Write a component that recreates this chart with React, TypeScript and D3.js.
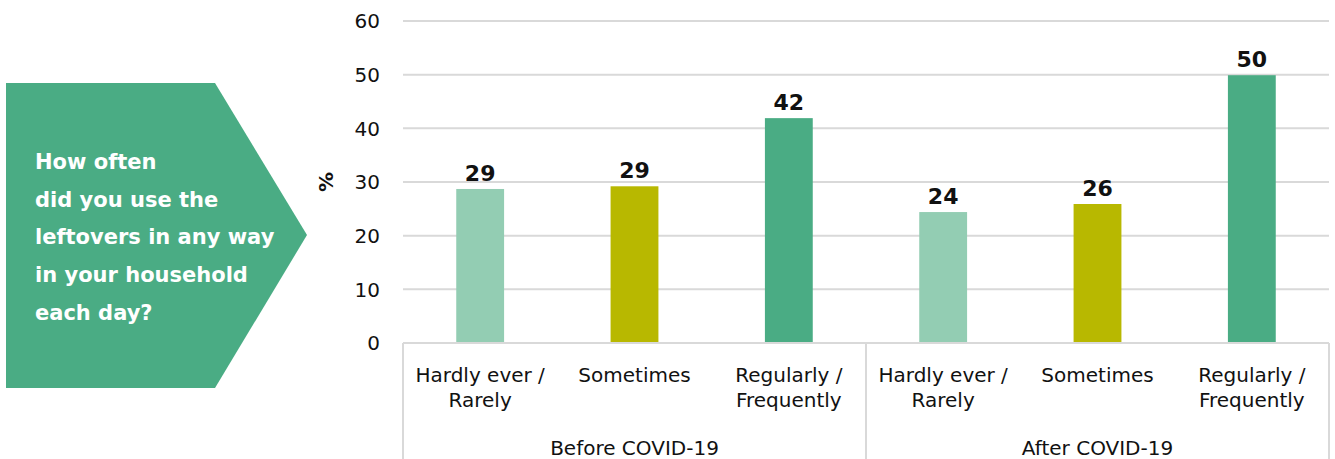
import React from "react";
import * as d3 from "d3";

const groups = ["Before COVID-19", "After COVID-19"];
const categories = ["Hardly ever / Rarely", "Sometimes", "Regularly / Frequently"];
const categoryLines = [["Hardly ever /", "Rarely"], ["Sometimes"], ["Regularly /", "Frequently"]];
const beforeValues = [28.7, 29.2, 41.9];
const afterValues = [24.4, 25.9, 49.9];
const labelsBefore = [29, 29, 42];
const labelsAfter = [24, 26, 50];
const yTicks = [0, 10, 20, 30, 40, 50, 60];
const colors = ["#93CDB3", "#B8B800", "#4AAC84"];
const questionLines = ["How often", "did you use the", "leftovers in any way", "in your household", "each day?"];

const W = 1335;
const H = 459;
const left = 403;
const right = 1329;
const top = 21;
const base = 343;
const font = "'DejaVu Sans', sans-serif";

export default function App() {
  const y = d3.scaleLinear().domain([0, 60]).range([base, top]);
  const xg = d3.scaleBand<string>().domain(groups).range([left, right]).padding(0);
  const xc = d3.scaleBand<string>().domain(categories).range([0, xg.bandwidth()]).paddingInner(0.69).paddingOuter(0.345);
  const data = [
    { g: groups[0], vals: beforeValues, labels: labelsBefore },
    { g: groups[1], vals: afterValues, labels: labelsAfter },
  ];
  const arrow = d3.path();
  arrow.moveTo(6, 83);
  arrow.lineTo(215, 83);
  arrow.lineTo(307, 235);
  arrow.lineTo(215, 388);
  arrow.lineTo(6, 388);
  arrow.closePath();

  return (
    <svg width={W} height={H} style={{ position: "absolute", left: 0, top: 0, display: "block" }} fontFamily={font}>
      <rect width={W} height={H} fill="#fff" />
      <path d={arrow.toString()} fill="#4AAC84" />
      {questionLines.map((t, i) => (
        <text key={t} x={35} y={169 + i * 37.7} fill="#fff" fontSize={21} fontWeight={700}>
          {t}
        </text>
      ))}
      {yTicks.map((t) => (
        <g key={t}>
          {t > 0 && <line x1={left} x2={right} y1={y(t)} y2={y(t)} stroke="#D9D9D9" strokeWidth={2} />}
          <text x={380} y={y(t)} dy="0.36em" textAnchor="end" fontSize={20} fill="#111">
            {t}
          </text>
        </g>
      ))}
      <text transform={`translate(333,${y(30)}) rotate(-90)`} textAnchor="middle" fontSize={20} fontWeight={700} fill="#111">
        %
      </text>
      {data.map((d) =>
        d.vals.map((v, i) => {
          const x0 = (xg(d.g) as number) + (xc(categories[i]) as number);
          return (
            <g key={d.g + i}>
              <rect x={x0} y={y(v)} width={xc.bandwidth()} height={base - y(v)} fill={colors[i]} />
              <text x={x0 + xc.bandwidth() / 2} y={y(v) - 8} textAnchor="middle" fontSize={22} fontWeight={700} fill="#111">
                {d.labels[i]}
              </text>
            </g>
          );
        })
      )}
      <line x1={left} x2={right} y1={base} y2={base} stroke="#D9D9D9" strokeWidth={2} />
      {[left, left + xg.bandwidth(), right].map((x, i) => (
        <line key={i} x1={x} x2={x} y1={base} y2={H} stroke="#D9D9D9" strokeWidth={2} />
      ))}
      {groups.map((g) => (
        <g key={g}>
          {categoryLines.map((lines, i) => {
            const cx = (xg(g) as number) + xg.bandwidth() / 6 * (2 * i + 1);
            return lines.map((ln, j) => (
              <text key={ln} x={cx} y={382 + j * 25} textAnchor="middle" fontSize={20} fill="#111">
                {ln}
              </text>
            ));
          })}
          <text x={(xg(g) as number) + xg.bandwidth() / 2} y={455} textAnchor="middle" fontSize={20} fill="#111">
            {g}
          </text>
        </g>
      ))}
    </svg>
  );
}
